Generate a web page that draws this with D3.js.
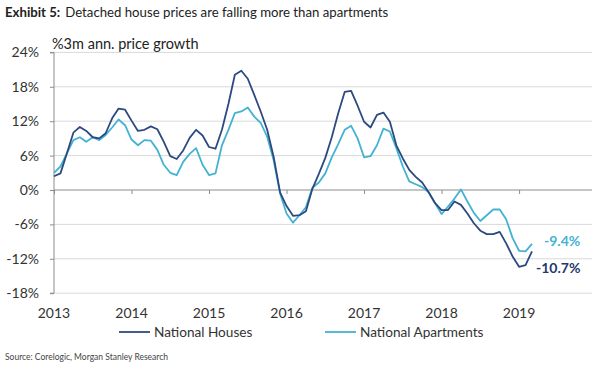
<!DOCTYPE html>
<html><head><meta charset="utf-8">
<script src="https://cdn.jsdelivr.net/npm/d3@7"></script>
<style>body{margin:0;background:#fff;} svg{display:block;font-family:Lato,"Open Sans",sans-serif;}</style>
</head><body><svg id="c" width="600" height="365"></svg>
<script>
const yearLabels = ["2013","2014","2015","2016","2017","2018","2019"];
const yTicks = [-18,-12,-6,0,6,12,18,24];
// monthly, Jan 2013 .. Mar 2019
const houses = [2.4,2.9,6.4,10.0,11.0,10.3,9.2,9.0,9.9,12.5,14.2,14.0,
  12.1,10.3,10.5,11.1,10.6,8.4,5.9,5.4,6.9,9.1,10.5,9.5,
  7.5,7.2,10.5,15.0,20.1,20.8,19.4,16.6,13.7,10.5,5.8,-0.4,
  -2.8,-4.5,-4.4,-3.7,0.2,2.8,5.6,9.2,13.4,17.1,17.3,14.7,
  11.9,10.9,13.1,13.5,11.9,7.8,5.5,3.5,2.3,1.3,-0.4,-2.3,
  -3.5,-3.5,-2.0,-2.6,-4.1,-5.8,-7.1,-7.7,-7.7,-7.3,-9.3,-11.6,
  -13.4,-13.1,-10.7];
const apartments = [3.0,4.1,6.4,8.7,9.2,8.4,9.2,8.7,9.6,10.9,12.3,11.3,
  8.8,7.8,8.7,8.6,7.0,4.4,3.0,2.6,4.9,6.3,7.3,4.4,
  2.6,2.9,7.8,10.5,13.4,13.7,14.4,12.8,11.7,9.3,5.2,-0.6,
  -4.1,-5.7,-4.4,-3.0,0.4,1.3,2.9,5.7,8.0,10.5,11.2,9.0,
  5.7,5.9,7.8,10.7,10.2,7.3,4.1,1.5,1.0,0.5,-0.4,-2.3,
  -4.2,-2.9,-1.5,0.1,-2.0,-4.0,-5.4,-4.4,-3.4,-3.4,-5.1,-8.4,
  -10.6,-10.7,-9.4];
const seriesNames = ["National Houses","National Apartments"];
const colors = ["#2C4A80","#44B2D2"];

const svg = d3.select("#c");
const x = d3.scaleLinear().domain([0, houses.length-1]).range([54, 532]);
const y = d3.scaleLinear().domain([-18, 24]).range([293.2, 52.4]);
const plotRight = 592;

// title
const t = svg.append("text").attr("x",5).attr("y",17).attr("font-size",13.2).attr("fill","#222");
t.append("tspan").attr("font-weight","bold").text("Exhibit 5:");
t.append("tspan").attr("dx",5).text("Detached house prices are falling more than apartments");

svg.append("text").attr("x",52).attr("y",49).attr("font-size",14.5).attr("fill","#222").text("%3m ann. price growth");

// gridlines
svg.append("g").selectAll("line").data(yTicks.filter(v=>v!==0)).join("line")
  .attr("x1",54).attr("x2",plotRight).attr("y1",d=>y(d)).attr("y2",d=>y(d))
  .attr("stroke","#d9d9d9").attr("stroke-width",1);

// y axis
const yAxis = svg.append("g").attr("transform","translate(54,0)")
  .call(d3.axisLeft(y).tickValues(yTicks).tickSize(4).tickPadding(11).tickFormat(d=>d+"%"));
yAxis.select(".domain").attr("stroke","#8c8c8c").attr("d",`M-4,${y(24)}H0V${y(-18)}H-4`);
yAxis.selectAll(".tick line").attr("stroke","#8c8c8c");
yAxis.selectAll(".tick text").attr("font-size",14).attr("fill","#333").attr("font-family","Lato,sans-serif");

// x axis on zero line
const xAxis = svg.append("g").attr("transform",`translate(0,${y(0)})`)
  .call(d3.axisBottom(x).tickValues(yearLabels.map((_,i)=>i*12)).tickSize(4).tickFormat(""));
xAxis.select(".domain").attr("stroke","#8c8c8c").attr("d",`M54,0H${plotRight}`);
xAxis.selectAll(".tick line").attr("stroke","#8c8c8c");

// year labels
svg.append("g").selectAll("text").data(yearLabels).join("text")
  .attr("x",(d,i)=>x(i*12)).attr("y",318).attr("text-anchor","middle")
  .attr("font-size",14).attr("fill","#333").text(d=>d);

// lines
const line = d3.line().x((d,i)=>x(i)).y(d=>y(d));
[apartments, houses].forEach((s,k)=>{
  svg.append("path").datum(s).attr("d",line).attr("fill","none")
    .attr("stroke", k===0?colors[1]:colors[0]).attr("stroke-width",1.8).attr("stroke-linejoin","round");
});

// end labels
svg.append("text").attr("x",544).attr("y",246).attr("font-size",14).attr("font-weight","bold")
  .attr("fill",colors[1]).text(apartments[apartments.length-1].toFixed(1)+"%");
svg.append("text").attr("x",536).attr("y",273).attr("font-size",14).attr("font-weight","bold")
  .attr("fill","#1F3A6B").text(houses[houses.length-1].toFixed(1)+"%");

// legend
const legX = [119, 325];
seriesNames.forEach((n,i)=>{
  svg.append("line").attr("x1",legX[i]).attr("x2",legX[i]+31).attr("y1",332).attr("y2",332)
    .attr("stroke",colors[i]).attr("stroke-width",1.8);
  svg.append("text").attr("x",legX[i]+35).attr("y",337).attr("font-size",13.6).attr("fill","#333").text(n);
});

svg.append("text").attr("x",5).attr("y",360).attr("font-size",8.5).attr("fill","#444")
  .text("Source: Corelogic, Morgan Stanley Research");
</script></body></html>
